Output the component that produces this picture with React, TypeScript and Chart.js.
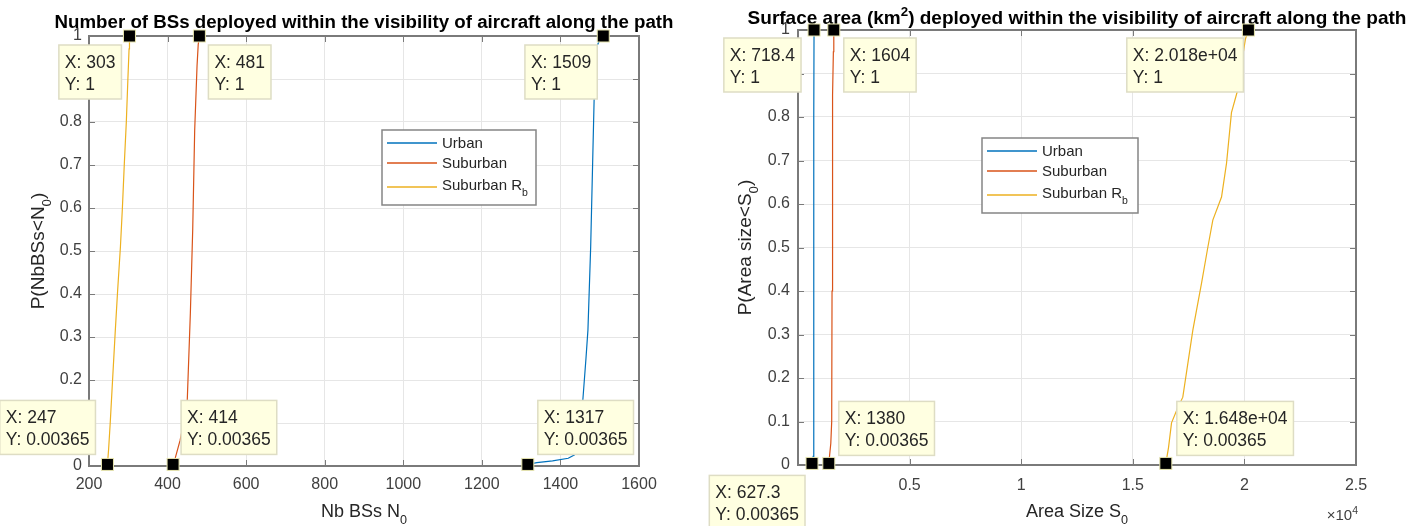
import React, { useEffect, useRef } from "react";
import { Chart, registerables } from "chart.js";

Chart.register(...registerables);

const FONT = '"Liberation Sans", Arial, Helvetica, sans-serif';

// ---------- Left chart: number of BSs ----------
const nbUrbanX = [1317, 1340, 1380, 1420, 1436, 1448, 1457, 1465, 1470, 1477, 1482, 1487, 1492, 1500, 1505, 1509];
const nbUrbanY = [0.00365, 0.008, 0.012, 0.018, 0.026, 0.08, 0.153, 0.25, 0.316, 0.51, 0.705, 0.9, 0.975, 0.99, 0.997, 1];
const nbSuburbanX = [414, 420, 432, 445, 450, 458, 464, 469, 475, 478, 481];
const nbSuburbanY = [0.00365, 0.02, 0.06, 0.12, 0.15, 0.355, 0.55, 0.78, 0.93, 0.98, 1];
const nbRbX = [247, 250, 254, 260, 267, 273, 280, 285, 290, 295, 299, 302, 303];
const nbRbY = [0.00365, 0.04, 0.1, 0.2, 0.316, 0.41, 0.51, 0.6, 0.705, 0.8, 0.9, 0.97, 1];
const nbXTicks = [200, 400, 600, 800, 1000, 1200, 1400, 1600];
const nbXTickLabels = ["200", "400", "600", "800", "1000", "1200", "1400", "1600"];

// ---------- Right chart: surface area ----------
const areaUrbanX = [627.3, 680, 698, 705, 710, 714, 718.4];
const areaUrbanY = [0.00365, 0.02, 0.1, 0.3, 0.55, 0.8, 1];
const areaSuburbanX = [1380, 1470, 1510, 1525, 1537, 1560, 1585, 1604];
const areaSuburbanY = [0.00365, 0.05, 0.1, 0.4, 0.7, 0.85, 0.95, 1];
const areaRbX = [16480, 16600, 16735, 17000, 17240, 17690, 18080, 18360, 18585, 18975, 19200, 19420, 19700, 19870, 20050, 20180];
const areaRbY = [0.00365, 0.04, 0.097, 0.13, 0.156, 0.31, 0.418, 0.5, 0.563, 0.616, 0.694, 0.81, 0.862, 0.924, 0.98, 1];
const areaXTicks = [0, 5000, 10000, 15000, 20000, 25000];
const areaXTickLabels = ["0", "0.5", "1", "1.5", "2", "2.5"];

// ---------- Shared ----------
const probTicks = [0, 0.1, 0.2, 0.3, 0.4, 0.5, 0.6, 0.7, 0.8, 0.9, 1];
const probTickLabels = ["0", "0.1", "0.2", "0.3", "0.4", "0.5", "0.6", "0.7", "0.8", "0.9", "1"];
const seriesNames = ["Urban", "Suburban", "Suburban R"];
const seriesSubs = ["", "", "b"];
const seriesColors = ["#0072BD", "#D95319", "#EDB120"];

// ---------- Data tips ----------
const nbTipX = [303, 481, 1509, 247, 414, 1317];
const nbTipY = [1, 1, 1, 0.00365, 0.00365, 0.00365];
const nbTipXLabels = ["303", "481", "1509", "247", "414", "1317"];
const nbTipYLabels = ["1", "1", "1", "0.00365", "0.00365", "0.00365"];
const areaTipX = [718.4, 1604, 20180, 627.3, 1380, 16480];
const areaTipY = [1, 1, 1, 0.00365, 0.00365, 0.00365];
const areaTipXLabels = ["718.4", "1604", "2.018e+04", "627.3", "1380", "1.648e+04"];
const areaTipYLabels = ["1", "1", "1", "0.00365", "0.00365", "0.00365"];

type Place = { h: "left" | "right"; gx: number; v: "below" | "above"; gy: number };
const nbTipPlace: Place[] = [
  { h: "left", gx: 8, v: "below", gy: 9 },
  { h: "right", gx: 9, v: "below", gy: 9 },
  { h: "left", gx: 6, v: "below", gy: 9 },
  { h: "left", gx: 12, v: "above", gy: 10 },
  { h: "right", gx: 8, v: "above", gy: 10 },
  { h: "right", gx: 10, v: "above", gy: 10 },
];
const areaTipPlace: Place[] = [
  { h: "left", gx: 13, v: "below", gy: 8 },
  { h: "right", gx: 10, v: "below", gy: 8 },
  { h: "left", gx: 5, v: "below", gy: 8 },
  { h: "left", gx: 7, v: "below", gy: 12 },
  { h: "right", gx: 10, v: "above", gy: 8 },
  { h: "right", gx: 11, v: "above", gy: 8 },
];

type Part = { t: string; s?: "sub" | "sup" };

function richWidth(ctx: CanvasRenderingContext2D, parts: Part[], size: number, bold: boolean) {
  let w = 0;
  for (const p of parts) {
    const fs = p.s ? size * 0.7 : size;
    ctx.font = `${bold ? "bold " : ""}${fs}px ${FONT}`;
    w += ctx.measureText(p.t).width;
  }
  return w;
}

function drawRich(
  ctx: CanvasRenderingContext2D,
  parts: Part[],
  x: number,
  midY: number,
  size: number,
  bold: boolean,
  align: "left" | "center" | "right",
  color: string
) {
  const base = midY + size * 0.36;
  const w = richWidth(ctx, parts, size, bold);
  let cx = align === "left" ? x : align === "center" ? x - w / 2 : x - w;
  ctx.fillStyle = color;
  ctx.textAlign = "left";
  ctx.textBaseline = "alphabetic";
  for (const p of parts) {
    const fs = p.s ? size * 0.7 : size;
    ctx.font = `${bold ? "bold " : ""}${fs}px ${FONT}`;
    const by = p.s === "sub" ? base + size * 0.37 : p.s === "sup" ? base - size * 0.42 : base;
    ctx.fillText(p.t, cx, by);
    cx += ctx.measureText(p.t).width;
  }
}

type Decor = {
  title: Part[];
  titleY: number;
  titleSize: number;
  xTitle: Part[];
  xTitleY: number;
  yTitle: Part[];
  yTitleX: number;
  legend: { dx: number; dy: number; w: number; h: number };
  tipX: number[];
  tipY: number[];
  tipXLabels: string[];
  tipYLabels: string[];
  tipPlace: Place[];
  exponent: boolean;
};

function decorPlugin(d: Decor) {
  return {
    id: "matlabDecor",
    afterDraw(chart: any) {
      const ctx: CanvasRenderingContext2D = chart.ctx;
      const a = chart.chartArea;
      const xs = chart.scales.x;
      const ys = chart.scales.y;
      ctx.save();

      // inward tick marks
      ctx.strokeStyle = "#7a7a7a";
      ctx.lineWidth = 1;
      ctx.beginPath();
      for (const t of xs.ticks) {
        const px = Math.round(xs.getPixelForValue(t.value)) + 0.5;
        ctx.moveTo(px, a.bottom);
        ctx.lineTo(px, a.bottom - 6);
        ctx.moveTo(px, a.top);
        ctx.lineTo(px, a.top + 6);
      }
      for (const t of ys.ticks) {
        const py = Math.round(ys.getPixelForValue(t.value)) + 0.5;
        ctx.moveTo(a.left, py);
        ctx.lineTo(a.left + 6, py);
        ctx.moveTo(a.right, py);
        ctx.lineTo(a.right - 6, py);
      }
      ctx.stroke();

      // axes box
      ctx.strokeStyle = "#7a7a7a";
      ctx.lineWidth = 2;
      ctx.strokeRect(a.left, a.top, a.right - a.left, a.bottom - a.top);

      // title
      drawRich(ctx, d.title, (a.left + a.right) / 2, d.titleY, d.titleSize, true, "center", "#000");

      // axis titles
      drawRich(ctx, d.xTitle, (a.left + a.right) / 2, d.xTitleY, 18, false, "center", "#262626");
      ctx.save();
      ctx.translate(d.yTitleX, (a.top + a.bottom) / 2);
      ctx.rotate(-Math.PI / 2);
      drawRich(ctx, d.yTitle, 0, 0, 19, false, "center", "#262626");
      ctx.restore();

      // x10^4 exponent
      if (d.exponent) {
        drawRich(ctx, [{ t: "\u00d710" }, { t: "4", s: "sup" }], a.right + 2, 515, 15, false, "right", "#404040");
      }

      // legend
      const L = d.legend;
      const lx = a.left + L.dx;
      const ly = a.top + L.dy;
      ctx.fillStyle = "#ffffff";
      ctx.fillRect(lx, ly, L.w, L.h);
      ctx.strokeStyle = "#858585";
      ctx.lineWidth = 1.5;
      ctx.strokeRect(lx, ly, L.w, L.h);
      const lineOff = [13, 33, 57];
      const textOff = [13, 33, 55];
      chart.data.datasets.forEach((ds: any, i: number) => {
        ctx.strokeStyle = ds.borderColor;
        ctx.lineWidth = 1.5;
        ctx.beginPath();
        ctx.moveTo(lx + 5, ly + lineOff[i]);
        ctx.lineTo(lx + 55, ly + lineOff[i]);
        ctx.stroke();
        const parts: Part[] = [{ t: seriesNames[i] }];
        if (seriesSubs[i]) parts.push({ t: seriesSubs[i], s: "sub" });
        drawRich(ctx, parts, lx + 60, ly + textOff[i], 15, false, "left", "#262626");
      });

      // data tips
      const tipSize = 17.5;
      for (let i = 0; i < d.tipX.length; i++) {
        const mx = xs.getPixelForValue(d.tipX[i]);
        const my = ys.getPixelForValue(d.tipY[i]);
        const l1 = "X: " + d.tipXLabels[i];
        const l2 = "Y: " + d.tipYLabels[i];
        ctx.font = `${tipSize}px ${FONT}`;
        const tw = Math.max(ctx.measureText(l1).width, ctx.measureText(l2).width);
        const bw = tw + 12;
        const bh = 54;
        const p = d.tipPlace[i];
        const bx = p.h === "left" ? mx - p.gx - bw : mx + p.gx;
        const by = p.v === "below" ? my + p.gy : my - p.gy - bh;
        ctx.fillStyle = "#ffffe1";
        ctx.fillRect(bx, by, bw, bh);
        ctx.strokeStyle = "#deddc4";
        ctx.lineWidth = 1.5;
        ctx.strokeRect(bx, by, bw, bh);
        ctx.fillStyle = "#262626";
        ctx.textAlign = "left";
        ctx.textBaseline = "middle";
        ctx.fillText(l1, bx + 6, by + 18);
        ctx.fillText(l2, bx + 6, by + 40);
      }
      for (let i = 0; i < d.tipX.length; i++) {
        const mx = xs.getPixelForValue(d.tipX[i]);
        const my = ys.getPixelForValue(d.tipY[i]);
        ctx.fillStyle = "#000";
        ctx.fillRect(mx - 6, my - 6, 12, 12);
        ctx.strokeStyle = "#e8e6b0";
        ctx.lineWidth = 1;
        ctx.strokeRect(mx - 6, my - 6, 12, 12);
      }
      ctx.restore();
    },
  };
}

type Cfg = {
  xs: number[][];
  ys: number[][];
  xMin: number;
  xMax: number;
  xTicks: number[];
  xTickLabels: string[];
  padTop: number;
  padRight: number;
  yAxisWidth: number;
  xAxisHeight: number;
  tickPadX: number;
  tickPadY: number;
  decor: Decor;
};

function buildConfig(c: Cfg): any {
  return {
    type: "scatter",
    data: {
      datasets: c.xs.map((xv, i) => ({
        label: seriesNames[i] + seriesSubs[i],
        data: xv.map((x, j) => ({ x, y: c.ys[i][j] })),
        showLine: true,
        borderColor: seriesColors[i],
        backgroundColor: seriesColors[i],
        borderWidth: 1.2,
        pointRadius: 0,
        tension: 0,
      })),
    },
    options: {
      responsive: false,
      animation: false,
      devicePixelRatio: 1,
      layout: { padding: { top: c.padTop, right: c.padRight, bottom: 0, left: 0 } },
      plugins: {
        legend: { display: false },
        title: { display: false },
        tooltip: { enabled: false },
      },
      scales: {
        x: {
          type: "linear",
          min: c.xMin,
          max: c.xMax,
          afterBuildTicks: (s: any) => {
            s.ticks = c.xTicks.map((v) => ({ value: v }));
          },
          afterFit: (s: any) => {
            s.height = c.xAxisHeight;
          },
          grid: { color: "#e6e6e6", lineWidth: 1, drawTicks: false, tickLength: 0 },
          border: { display: false },
          ticks: {
            autoSkip: false,
            maxRotation: 0,
            padding: c.tickPadX,
            color: "#404040",
            font: { family: FONT, size: 16 },
            callback: (_v: any, i: number) => c.xTickLabels[i],
          },
        },
        y: {
          type: "linear",
          min: 0,
          max: 1,
          afterBuildTicks: (s: any) => {
            s.ticks = probTicks.map((v) => ({ value: v }));
          },
          afterFit: (s: any) => {
            s.width = c.yAxisWidth;
          },
          grid: { color: "#e6e6e6", lineWidth: 1, drawTicks: false, tickLength: 0 },
          border: { display: false },
          ticks: {
            autoSkip: false,
            padding: c.tickPadY,
            color: "#404040",
            font: { family: FONT, size: 16 },
            callback: (_v: any, i: number) => probTickLabels[i],
          },
        },
      },
    },
    plugins: [decorPlugin(c.decor)],
  };
}

function CdfChart({ left, width, cfg }: { left: number; width: number; cfg: Cfg }) {
  const ref = useRef<HTMLCanvasElement>(null);
  useEffect(() => {
    const chart = new Chart(ref.current as HTMLCanvasElement, buildConfig(cfg));
    return () => chart.destroy();
  }, []);
  return (
    <canvas
      ref={ref}
      width={width}
      height={526}
      style={{ position: "absolute", left, top: 0, width, height: 526 }}
    />
  );
}

const leftCfg: Cfg = {
  xs: [nbUrbanX, nbSuburbanX, nbRbX],
  ys: [nbUrbanY, nbSuburbanY, nbRbY],
  xMin: 200,
  xMax: 1600,
  xTicks: nbXTicks,
  xTickLabels: nbXTickLabels,
  padTop: 36,
  padRight: 61,
  yAxisWidth: 89,
  xAxisHeight: 60,
  tickPadX: 9,
  tickPadY: 7,
  decor: {
    title: [{ t: "Number of BSs deployed within the visibility of aircraft along the path" }],
    titleY: 21,
    titleSize: 18.7,
    xTitle: [{ t: "Nb BSs N" }, { t: "0", s: "sub" }],
    xTitleY: 510.5,
    yTitle: [{ t: "P(NbBSs<N" }, { t: "0", s: "sub" }, { t: ")" }],
    yTitleX: 37,
    legend: { dx: 293, dy: 94, w: 154, h: 75 },
    tipX: nbTipX,
    tipY: nbTipY,
    tipXLabels: nbTipXLabels,
    tipYLabels: nbTipYLabels,
    tipPlace: nbTipPlace,
    exponent: false,
  },
};

const rightCfg: Cfg = {
  xs: [areaUrbanX, areaSuburbanX, areaRbX],
  ys: [areaUrbanY, areaSuburbanY, areaRbY],
  xMin: 0,
  xMax: 25000,
  xTicks: areaXTicks,
  xTickLabels: areaXTickLabels,
  padTop: 30,
  padRight: 65,
  yAxisWidth: 98,
  xAxisHeight: 61,
  tickPadX: 11,
  tickPadY: 8,
  decor: {
    title: [
      { t: "Surface area (km" },
      { t: "2", s: "sup" },
      { t: ") deployed within the visibility of aircraft along the path" },
    ],
    titleY: 17,
    titleSize: 19,
    xTitle: [{ t: "Area Size S" }, { t: "0", s: "sub" }],
    xTitleY: 510.5,
    yTitle: [{ t: "P(Area size<S" }, { t: "0", s: "sub" }, { t: ")" }],
    yTitleX: 44,
    legend: { dx: 184, dy: 108, w: 156, h: 75 },
    tipX: areaTipX,
    tipY: areaTipY,
    tipXLabels: areaTipXLabels,
    tipYLabels: areaTipYLabels,
    tipPlace: areaTipPlace,
    exponent: true,
  },
};

export default function App() {
  return (
    <div
      style={{
        position: "fixed",
        left: 0,
        top: 0,
        width: 1421,
        height: 526,
        background: "#ffffff",
        overflow: "hidden",
      }}
    >
      <CdfChart left={0} width={700} cfg={leftCfg} />
      <CdfChart left={700} width={721} cfg={rightCfg} />
    </div>
  );
}
